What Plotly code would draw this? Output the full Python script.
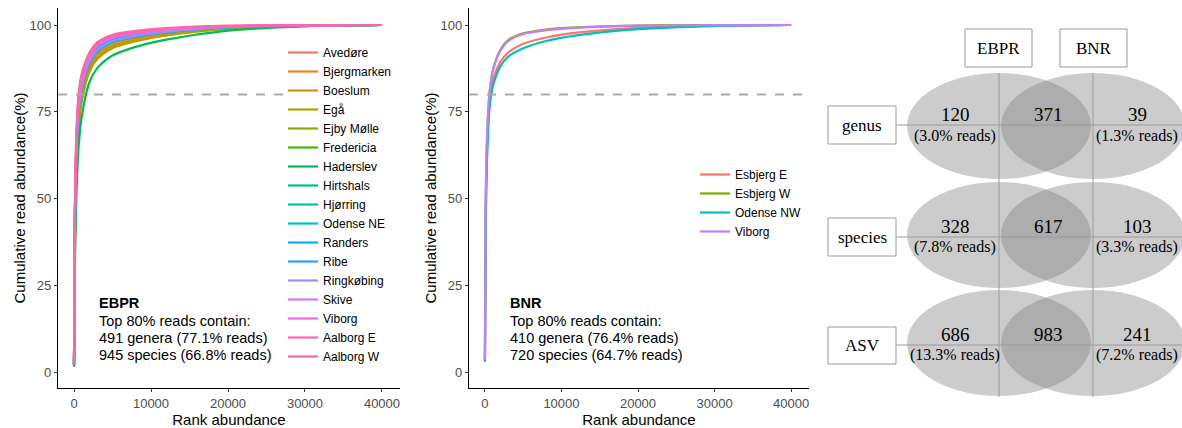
import plotly.graph_objects as go

# ---------------- data ----------------
ranks = [0, 100, 300, 600, 1000, 2000, 3000, 5000, 8000, 12000, 20000, 30000, 40000]

ebpr_names = ["Avedøre", "Bjergmarken", "Boeslum", "Egå", "Ejby Mølle", "Fredericia",
              "Haderslev", "Hirtshals", "Hjørring", "Odense NE", "Randers", "Ribe",
              "Ringkøbing", "Skive", "Viborg", "Aalborg E", "Aalborg W"]
ebpr_colors = ["#F8766D", "#E7851E", "#D09400", "#B2A100", "#89AC00", "#45B500",
               "#00BC51", "#00C087", "#00C0B2", "#00BCD6", "#00B3F2", "#29A3FF",
               "#9C8DFF", "#D277FF", "#F166E8", "#FF61C7", "#FF689E"]
avedore     = [2.2, 39.1, 61.7, 74.8, 81.6, 89.0, 92.4, 95.1, 96.7, 97.9, 99.3, 99.83, 100]
bjergmarken = [2.0, 36.5, 59.0, 72.5, 79.8, 87.8, 91.3, 94.2, 96.0, 97.5, 99.1, 99.78, 100]
boeslum     = [1.9, 34.0, 56.3, 70.3, 77.9, 86.5, 90.1, 93.3, 95.3, 97.0, 98.9, 99.72, 100]
ega         = [1.9, 34.8, 57.2, 71.0, 78.5, 86.9, 90.5, 93.6, 95.5, 97.1, 98.95, 99.74, 100]
ejby_molle  = [2.1, 38.2, 60.8, 74.0, 81.0, 88.6, 92.0, 94.8, 96.5, 97.8, 99.25, 99.81, 100]
fredericia  = [2.2, 39.9, 62.6, 75.5, 82.3, 89.5, 92.8, 95.4, 96.9, 98.1, 99.4, 99.85, 100]
haderslev   = [1.5, 28.0, 50.0, 65.0, 73.5, 83.5, 87.5, 91.2, 93.7, 95.8, 98.4, 99.6, 100]
hirtshals   = [2.3, 42.5, 65.3, 77.8, 84.1, 90.7, 93.9, 96.3, 97.6, 98.6, 99.6, 99.9, 100]
hjorring    = [2.3, 41.6, 64.4, 77.0, 83.5, 90.3, 93.5, 96.0, 97.4, 98.4, 99.5, 99.88, 100]
odense_ne   = [2.2, 39.9, 62.6, 75.5, 82.3, 89.5, 92.8, 95.4, 96.9, 98.1, 99.4, 99.85, 100]
randers     = [2.3, 40.8, 63.5, 76.3, 82.9, 89.9, 93.1, 95.7, 97.2, 98.3, 99.45, 99.86, 100]
ribe        = [2.2, 39.1, 61.7, 74.8, 81.6, 89.0, 92.4, 95.1, 96.7, 97.9, 99.3, 99.83, 100]
ringkobing  = [2.2, 39.9, 62.6, 75.5, 82.3, 89.5, 92.8, 95.4, 96.9, 98.1, 99.4, 99.85, 100]
skive       = [2.3, 42.5, 65.3, 77.8, 84.1, 90.7, 93.9, 96.3, 97.6, 98.6, 99.6, 99.9, 100]
viborg_e    = [2.4, 44.2, 67.1, 79.3, 85.4, 91.6, 94.6, 96.9, 98.1, 98.9, 99.7, 99.93, 100]
aalborg_e   = [2.4, 43.3, 66.2, 78.5, 84.8, 91.2, 94.3, 96.6, 97.8, 98.8, 99.7, 99.92, 100]
aalborg_w   = [2.5, 45.0, 68.0, 80.0, 86.0, 92.0, 95.0, 97.2, 98.3, 99.1, 99.8, 99.95, 100]
ebpr_values = [avedore, bjergmarken, boeslum, ega, ejby_molle, fredericia, haderslev,
               hirtshals, hjorring, odense_ne, randers, ribe, ringkobing, skive,
               viborg_e, aalborg_e, aalborg_w]

bnr_names = ["Esbjerg E", "Esbjerg W", "Odense NW", "Viborg"]
bnr_colors = ["#F8766D", "#7CAE00", "#00BFC4", "#C77CFF"]
esbjerg_e = [3.0, 44.0, 65.5, 77.5, 83.5, 89.3, 92.0, 94.6, 96.4, 97.8, 99.2, 99.8, 100]
esbjerg_w = [3.0, 46.0, 68.0, 80.0, 86.5, 92.8, 95.6, 97.6, 98.7, 99.3, 99.85, 99.95, 100]
odense_nw = [3.0, 42.0, 63.0, 76.0, 82.0, 88.0, 90.8, 93.3, 95.4, 97.0, 98.8, 99.7, 100]
viborg_b  = [3.5, 50.0, 70.0, 80.5, 86.5, 92.5, 95.3, 97.4, 98.5, 99.2, 99.8, 99.95, 100]
bnr_values = [esbjerg_e, esbjerg_w, odense_nw, viborg_b]

threshold = 80
x_ticks = [0, 10000, 20000, 30000, 40000]
x_ticktext = ["0", "10000", "20000", "30000", "40000"]
y_ticks = [0, 25, 50, 75, 100]

ebpr_text = ["EBPR", "Top 80% reads contain:", "491 genera (77.1% reads)", "945 species (66.8% reads)"]
bnr_text = ["BNR", "Top 80% reads contain:", "410 genera (76.4% reads)", "720 species (64.7% reads)"]

venn_levels = ["genus", "species", "ASV"]
venn_ebpr_only = [120, 328, 686]
venn_shared = [371, 617, 983]
venn_bnr_only = [39, 103, 241]
venn_ebpr_reads = ["3.0", "7.8", "13.3"]
venn_bnr_reads = ["1.3", "3.3", "7.2"]
venn_groups = ["EBPR", "BNR"]

# ---------------- figure ----------------
W, H = 1182, 428
fig = go.Figure()

for name, col, vals in zip(ebpr_names, ebpr_colors, ebpr_values):
    fig.add_trace(go.Scatter(x=ranks, y=vals, mode="lines", name=name,
                             line=dict(color=col, width=2.2, shape="spline", smoothing=0.8),
                             xaxis="x", yaxis="y", legend="legend"))
for name, col, vals in zip(bnr_names, bnr_colors, bnr_values):
    fig.add_trace(go.Scatter(x=ranks, y=vals, mode="lines", name=name,
                             line=dict(color=col, width=2.2, shape="spline", smoothing=0.8),
                             xaxis="x2", yaxis="y2", legend="legend2"))

font_s = "Liberation Sans, Arial, sans-serif"
font_serif = "Liberation Serif, Times New Roman, serif"

ydom = [(H - 388) / H, (H - 8) / H]
axis_common = dict(showline=True, linecolor="black", linewidth=1.2, ticks="outside",
                   ticklen=3, tickcolor="#333", tickwidth=1, showgrid=False, zeroline=False,
                   tickfont=dict(family=font_s, size=13, color="#4d4d4d"))
xr = [-2080, 42340]
yr = [-4.6, 104.9]

fig.update_layout(
    width=W, height=H, margin=dict(l=0, r=0, t=0, b=0),
    paper_bgcolor="white", plot_bgcolor="white",
    font=dict(family=font_s, color="black"),
    xaxis=dict(domain=[58 / W, 400 / W], range=xr, tickvals=x_ticks, ticktext=x_ticktext, anchor="y",
               title=dict(text="Rank abundance", font=dict(size=15), standoff=0), **axis_common),
    yaxis=dict(domain=ydom, range=yr, tickvals=y_ticks, anchor="x",
               title=dict(text="Cumulative read abundance(%)", font=dict(size=15), standoff=0), **axis_common),
    xaxis2=dict(domain=[469 / W, 809 / W], range=xr, tickvals=x_ticks, ticktext=x_ticktext, anchor="y2",
                title=dict(text="Rank abundance", font=dict(size=15), standoff=0), **axis_common),
    yaxis2=dict(domain=ydom, range=yr, tickvals=y_ticks, anchor="x2",
                title=dict(text="Cumulative read abundance(%)", font=dict(size=15), standoff=0), **axis_common),
    xaxis3=dict(domain=[820 / W, 1], range=[820, 1182], visible=False, anchor="y3"),
    yaxis3=dict(domain=[0, 1], range=[428, 0], visible=False, anchor="x3"),
    legend=dict(x=283 / W, y=1 - 38 / H, xanchor="left", yanchor="top",
                font=dict(family=font_s, size=12, color="black"), bgcolor="rgba(0,0,0,0)",
                tracegroupgap=0),
    legend2=dict(x=695 / W, y=1 - 160 / H, xanchor="left", yanchor="top",
                 font=dict(family=font_s, size=12, color="black"), bgcolor="rgba(0,0,0,0)"),
)

# threshold dashed lines
fig.add_shape(type="line", xref="x", yref="y", x0=xr[0], x1=28300, y0=threshold, y1=threshold,
              line=dict(color="#aaaaaa", width=2, dash="dash"), layer="above")
fig.add_shape(type="line", xref="x2", yref="y2", x0=xr[0], x1=xr[1], y0=threshold, y1=threshold,
              line=dict(color="#aaaaaa", width=2, dash="dash"), layer="above")

# text blocks
for txt, x0 in [(ebpr_text, 97), (bnr_text, 508)]:
    ys = [303, 321, 338, 355]
    for i, t in enumerate(txt):
        fig.add_annotation(xref="paper", yref="paper", x=x0 / W, y=1 - ys[i] / H,
                           xanchor="left", yanchor="middle", showarrow=False,
                           text=f"<b>{t}</b>" if i == 0 else t,
                           font=dict(family=font_s, size=14.5, color="black"))

# ---------------- Venn panel ----------------
cx = [999, 1093]
rx = 92
row_y = [126, 235, 343]
ry = 53
for yc in row_y:
    for c in cx:
        fig.add_shape(type="circle", xref="x3", yref="y3", x0=c - rx, x1=c + rx,
                      y0=yc - ry, y1=yc + ry, fillcolor="rgba(128,128,128,0.4)",
                      line=dict(width=0), layer="below")
line_col = "#9a9a9a"
for c in cx:
    fig.add_shape(type="line", xref="x3", yref="y3", x0=c, x1=c, y0=73, y1=397,
                  line=dict(color=line_col, width=1))
for ly in [125, 237, 345]:
    fig.add_shape(type="line", xref="x3", yref="y3", x0=896, x1=1182, y0=ly, y1=ly,
                  line=dict(color=line_col, width=1))

# group boxes
for g, (x0, x1) in zip(venn_groups, [(965, 1032), (1060, 1127)]):
    fig.add_shape(type="rect", xref="x3", yref="y3", x0=x0, x1=x1, y0=29, y1=67,
                  fillcolor="white", line=dict(color=line_col, width=1))
    fig.add_annotation(xref="x3", yref="y3", x=(x0 + x1) / 2, y=48, text=g, showarrow=False,
                       font=dict(family=font_serif, size=17, color="black"))
# row boxes
for lvl, (y0, y1) in zip(venn_levels, [(106, 144), (218, 256), (327, 364)]):
    fig.add_shape(type="rect", xref="x3", yref="y3", x0=828, x1=896, y0=y0, y1=y1,
                  fillcolor="white", line=dict(color=line_col, width=1))
    fig.add_annotation(xref="x3", yref="y3", x=862, y=(y0 + y1) / 2, text=lvl, showarrow=False,
                       font=dict(family=font_serif, size=17, color="black"))

num_y = [114, 226, 334]
reads_y = [136, 247, 355]
for i in range(3):
    for xv, val in [(955, venn_ebpr_only[i]), (1048, venn_shared[i]), (1137, venn_bnr_only[i])]:
        fig.add_annotation(xref="x3", yref="y3", x=xv, y=num_y[i], text=str(val), showarrow=False,
                           font=dict(family=font_serif, size=19, color="black"))
    for xv, r in [(955, venn_ebpr_reads[i]), (1137, venn_bnr_reads[i])]:
        fig.add_annotation(xref="x3", yref="y3", x=xv, y=reads_y[i], text=f"({r}% reads)",
                           showarrow=False, font=dict(family=font_serif, size=16, color="black"))

fig.write_html("out.html", config={"displayModeBar": False},
               post_script="document.body.style.margin='0';document.body.style.padding='0';")
